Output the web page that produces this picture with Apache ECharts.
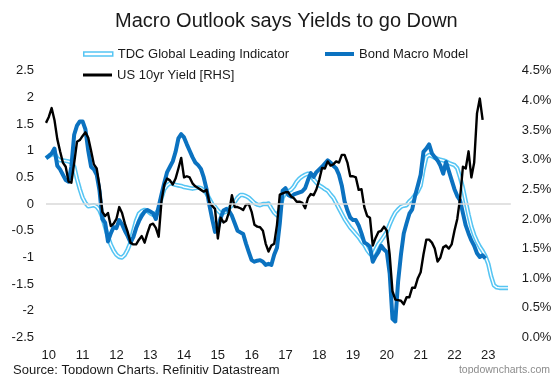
<!DOCTYPE html>
<html>
<head>
<meta charset="utf-8">
<script src="https://cdn.jsdelivr.net/npm/echarts@6/dist/echarts.min.js"></script>
<style>
html,body{margin:0;padding:0;background:#fff;}
#chart{width:556px;height:374px;}
</style>
</head>
<body>
<div id="chart"></div>
<script>
// Monthly categories: Dec 2009 .. Sep 2023
const months = [];
(function(){
  let y = 2009, m = 12;
  while (y < 2023 || (y === 2023 && m <= 9)) {
    months.push(y + '-' + (m < 10 ? '0' + m : '' + m));
    m++; if (m > 12) { m = 1; y++; }
  }
})();

const yearTickLabels = ['10','11','12','13','14','15','16','17','18','19','20','21','22','23'];

// TDC Global Leading Indicator (LHS), Dec 2009 .. Aug 2023
const tdcLeading = [
  0.86,
  0.90, 0.93, 0.95, 0.86, 0.82, 0.82, 0.81, 0.80, 0.78, 0.70, 0.47, 0.28,
  0.12, 0.02, -0.04, -0.03, -0.02, -0.05, -0.12, -0.25, -0.43, -0.61, -0.76, -0.87,
  -0.95, -0.99, -1.00, -0.95, -0.85, -0.72, -0.50, -0.31, -0.18, -0.13, -0.11, -0.13,
  -0.17, -0.20, -0.18, -0.10, 0.12, 0.28, 0.35, 0.39, 0.38, 0.36, 0.35, 0.34,
  0.32, 0.31, 0.30, 0.29, 0.30, 0.31, 0.30, 0.26, 0.20, 0.10, 0.00, -0.05,
  -0.12, -0.17, -0.16, -0.14, -0.08, -0.02, 0.04, 0.12, 0.17, 0.17, 0.15, 0.12,
  0.07, 0.02, -0.01, -0.02, 0.00, 0.00, 0.01, -0.08, -0.16, -0.21, -0.11, 0.12,
  0.21, 0.24, 0.27, 0.33, 0.42, 0.48, 0.52, 0.55, 0.57, 0.55, 0.46, 0.40,
  0.35, 0.32, 0.28, 0.25, 0.18, 0.12, 0.02, -0.08, -0.18, -0.28, -0.36, -0.44,
  -0.50, -0.56, -0.62, -0.70, -0.76, -0.86, -0.93, -0.96, -0.85, -0.75, -0.68, -0.60,
  -0.52, -0.38, -0.26, -0.16, -0.10, -0.05, -0.03, -0.02, 0.05, 0.10, 0.17, 0.24,
  0.35, 0.65, 0.88, 0.92, 0.90, 0.87, 0.85, 0.83, 0.82, 0.80, 0.77, 0.75,
  0.73, 0.67, 0.50, 0.30, 0.05, -0.20, -0.42, -0.58, -0.70, -0.80, -0.88, -0.98,
  -1.12, -1.35, -1.52, -1.56, -1.57, -1.57, -1.57, -1.57
];

// Bond Macro Model (LHS), Dec 2009 .. Dec 2022
const bondMacroModel = [
  0.86,
  0.90, 0.95, 1.04, 0.72, 0.65, 0.55, 0.45, 0.42, 0.70, 1.30, 1.47, 1.55,
  1.55, 1.40, 1.00, 0.70, 0.65, 0.55, 0.25, -0.28, -0.35, -0.70, -0.55, -0.43,
  -0.45, -0.30, -0.38, -0.50, -0.60, -0.72, -0.62, -0.45, -0.32, -0.22, -0.14, -0.11,
  -0.14, -0.17, -0.28, -0.05, 0.18, 0.40, 0.60, 0.70, 0.80, 0.98, 1.23, 1.31,
  1.25, 1.12, 1.00, 0.88, 0.78, 0.73, 0.66, 0.50, 0.28, -0.02, -0.28, -0.52,
  -0.45, -0.26, -0.12, -0.09, -0.13, -0.22, -0.36, -0.50, -0.53, -0.56, -0.74, -0.90,
  -1.05, -1.08, -1.06, -1.05, -1.08, -1.14, -1.12, -1.14, -0.95, -0.82, -0.36, 0.25,
  0.30, 0.17, 0.14, 0.18, 0.20, 0.22, 0.24, 0.30, 0.45, 0.58, 0.51, 0.60,
  0.65, 0.70, 0.76, 0.82, 0.78, 0.72, 0.67, 0.55, 0.35, 0.05, -0.12, -0.25,
  -0.30, -0.30, -0.40, -0.55, -0.72, -0.75, -0.80, -1.08, -0.98, -0.90, -0.78, -0.85,
  -0.90, -1.30, -2.15, -2.20, -1.45, -0.95, -0.55, -0.36, -0.18, -0.10, 0.15, 0.35,
  0.55, 0.98, 1.04, 1.12, 0.95, 0.88, 0.82, 0.72, 0.57, 0.79, 0.62, 0.45,
  0.28, 0.15, 0.07, -0.17, -0.40, -0.55, -0.68, -0.78, -0.92, -0.99, -0.96, -1.02
];

// US 10yr Yield (RHS, %), Dec 2009 .. Nov 2022
const us10yYield = [
  3.62,
  3.72, 3.87, 3.67, 3.35, 3.14, 2.95, 2.88, 2.63, 2.61, 2.94, 3.30, 3.33,
  3.40, 3.46, 3.37, 3.15, 2.92, 2.85, 2.55, 2.12, 2.05, 2.10, 1.88, 1.92,
  2.00, 2.20, 2.10, 1.92, 1.78, 1.60, 1.57, 1.57, 1.65, 1.71, 1.60, 1.76,
  1.90, 1.92, 1.85, 1.70, 2.30, 2.58, 2.68, 2.65, 2.58, 2.68, 2.85, 3.03,
  2.70, 2.72, 2.70, 2.60, 2.55, 2.52, 2.49, 2.46, 2.49, 2.28, 2.22, 2.17,
  1.67, 2.02, 1.94, 1.97, 2.12, 2.40, 2.20, 2.20, 2.18, 2.15, 2.24, 2.25,
  2.12, 1.90, 1.87, 1.86, 1.80, 1.58, 1.45, 1.55, 1.58, 1.90, 2.41, 2.43,
  2.45, 2.45, 2.38, 2.35, 2.29, 2.29, 2.27, 2.18, 2.35, 2.42, 2.40, 2.50,
  2.66, 2.86, 2.85, 2.97, 2.90, 2.92, 2.97, 2.95, 3.08, 3.08, 2.95, 2.72,
  2.72, 2.70, 2.49, 2.50, 2.20, 2.05, 2.02, 1.55, 1.68, 1.78, 1.80, 1.87,
  1.80, 1.40, 0.78, 0.64, 0.63, 0.62, 0.56, 0.68, 0.68, 0.84, 0.84, 1.00,
  1.10, 1.40, 1.65, 1.65, 1.60, 1.50, 1.28, 1.35, 1.52, 1.55, 1.50, 1.57,
  1.80, 2.00, 2.35, 2.88, 2.85, 3.14, 2.70, 2.95, 3.78, 4.03, 3.67
];

const leftTicks = {min: -2.5, max: 2.5, step: 0.5};
const rightTicks = {min: 0, max: 4.5, step: 0.5};

const LIGHT = '#56c5f3';
const BLUE = '#0b72c0';
const FONT = '"Liberation Sans", Arial, sans-serif';

const chart = echarts.init(document.getElementById('chart'), null, {renderer: 'canvas'});

chart.setOption({
  animation: false,
  backgroundColor: '#fff',
  textStyle: {fontFamily: FONT},
  title: {
    text: 'Macro Outlook says Yields to go Down',
    left: 115, top: 11, padding: 0,
    textStyle: {fontSize: 20, fontWeight: 'normal', color: '#1a1a1a', fontFamily: FONT}
  },
  legend: [
    {
      left: 83, top: 47.5, padding: 0, itemGap: 36, itemWidth: 29, itemHeight: 4,
      textStyle: {fontSize: 13, color: '#1a1a1a', fontFamily: FONT},
      data: [
        {name: 'TDC Global Leading Indicator', icon: 'rect',
         itemStyle: {color: '#fff', borderColor: LIGHT, borderWidth: 1.5}},
        {name: 'Bond Macro Model', icon: 'rect', itemStyle: {color: BLUE, borderWidth: 0}}
      ]
    },
    {
      left: 83, top: 68.5, padding: 0, itemWidth: 29, itemHeight: 3,
      textStyle: {fontSize: 13, color: '#1a1a1a', fontFamily: FONT},
      data: [{name: 'US 10yr Yield [RHS]', icon: 'rect', itemStyle: {color: '#000', borderWidth: 0}}]
    }
  ],
  grid: {left: 46, right: 45.2, top: 70.7, bottom: 36.5, containLabel: false},
  xAxis: {
    type: 'category',
    data: months,
    boundaryGap: false,
    axisLine: {show: false},
    axisTick: {show: false},
    splitLine: {show: false},
    axisLabel: {
      interval: function (i, v) { return v.slice(5) === '01'; },
      formatter: function (v) {
        const idx = parseInt(v.slice(0, 4), 10) - 2010;
        return yearTickLabels[idx] || '';
      },
      color: '#1a1a1a', fontSize: 13, margin: 11, fontFamily: FONT
    }
  },
  yAxis: [
    {
      type: 'value', min: leftTicks.min, max: leftTicks.max, interval: leftTicks.step,
      axisLine: {show: false}, axisTick: {show: false}, splitLine: {show: false},
      axisLabel: {color: '#1a1a1a', fontSize: 13, margin: 12, fontFamily: FONT}
    },
    {
      type: 'value', min: rightTicks.min, max: rightTicks.max, interval: rightTicks.step,
      axisLine: {show: false}, axisTick: {show: false}, splitLine: {show: false},
      axisLabel: {color: '#1a1a1a', fontSize: 13, margin: 11, fontFamily: FONT,
        formatter: function (v) { return v.toFixed(1) + '%'; }}
    }
  ],
  series: [
    {
      name: 'TDC Global Leading Indicator', type: 'line', data: tdcLeading,
      showSymbol: false, symbol: 'none', z: 2,
      lineStyle: {color: LIGHT, width: 4.5, join: 'round'},
      itemStyle: {color: LIGHT},
      markLine: {
        silent: true, symbol: 'none', label: {show: false},
        lineStyle: {color: '#d9d9d9', width: 1.5, type: 'solid'},
        data: [{yAxis: 0}]
      }
    },
    {
      name: 'TDC inner', type: 'line', data: tdcLeading,
      showSymbol: false, symbol: 'none', z: 2,
      lineStyle: {color: '#fff', width: 1.4, join: 'round'}
    },
    {
      name: 'Bond Macro Model', type: 'line', data: bondMacroModel,
      showSymbol: false, symbol: 'none', z: 3,
      lineStyle: {color: BLUE, width: 4, join: 'round'},
      itemStyle: {color: BLUE}
    },
    {
      name: 'US 10yr Yield [RHS]', type: 'line', data: us10yYield, yAxisIndex: 1,
      showSymbol: false, symbol: 'none', z: 4,
      lineStyle: {color: '#000', width: 2.4, join: 'round'},
      itemStyle: {color: '#000'}
    }
  ],
  graphic: [
    {type: 'text', left: 13, top: 364,
     style: {text: 'Source: Topdown Charts, Refinitiv Datastream', font: '13px ' + FONT, fill: '#1a1a1a'}},
    {type: 'text', right: 6, top: 365,
     style: {text: 'topdowncharts.com', font: '10.5px ' + FONT, fill: '#8c8c8c'}}
  ]
});
</script>
</body>
</html>
